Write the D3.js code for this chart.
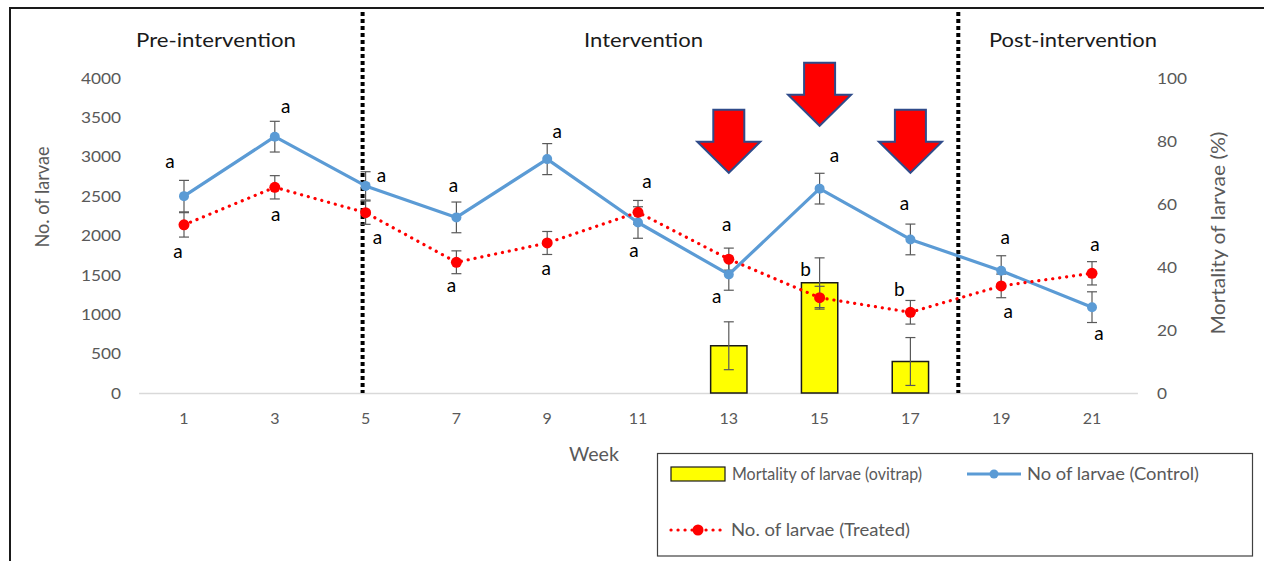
<!DOCTYPE html>
<html><head><meta charset="utf-8">
<script src="https://cdn.jsdelivr.net/npm/d3@7/dist/d3.min.js"></script>
<style>
html,body{margin:0;padding:0;background:#fff;}
svg{display:block;}
text{font-family:Lato,"Open Sans",sans-serif;}
</style></head>
<body><svg id="chart" width="1264" height="561"></svg>
<script>
// ---- data ----
const weeks = [1, 3, 5, 7, 9, 11, 13, 15, 17, 19, 21];
const control = [2500, 3255, 2630, 2230, 2970, 2165, 1505, 2595, 1950, 1553, 1090];
const controlErr = [200, 195, 180, 195, 197, 200, 200, 195, 195, 190, 195];
const treated = [2135, 2612, 2290, 1660, 1905, 2295, 1700, 1210, 1025, 1360, 1520];
const treatedErr = [155, 148, 148, 145, 146, 150, 140, 145, 150, 150, 148];
const controlLetters = ["a","a","a","a","a","a","a","a","a","a","a"];
const treatedLetters = ["a","a","a","a","a","a","a","b","b","a","a"];
const mortWeeks = [13, 15, 17];
const mortality = [15, 35, 10];
const mortalityErr = [7.6, 7.9, 7.6];
const leftTicks = [0, 500, 1000, 1500, 2000, 2500, 3000, 3500, 4000];
const rightTicks = [0, 20, 40, 60, 80, 100];
const phases = ["Pre-intervention", "Intervention", "Post-intervention"];
const arrowWeeks = [13, 15, 17];
const arrowTipValues = [2797, 3394, 2797]; // tip position on left axis scale

// ---- layout (not data) ----
const ctrlOff = [[-14,-33],[11,-29],[16,-9],[-3,-30],[10,-26],[-4,29],[-12,24],[15,-32],[-6,-34],[4,-32],[7,28]];
const trtOff  = [[-6,28],[1,29],[12,26],[-5,25],[-1,27],[9,-29],[-2,-33],[-14,-27],[-11,-21],[7,27],[3,-27]];

const svg = d3.select("#chart");
const x = d3.scaleBand().domain(weeks).range([138.6, 1137.4]);
const bw = x.bandwidth();
const cx = w => x(w) + bw / 2;
const yL = d3.scaleLinear().domain([0, 4000]).range([393, 78]);
const yR = d3.scaleLinear().domain([0, 100]).range([393, 78]);

function fit(sel, len) { sel.attr("textLength", len).attr("lengthAdjust", "spacingAndGlyphs"); return sel; }

// frame
svg.append("path").attr("d", "M10,561 L10,8 L1264,8").attr("fill","none").attr("stroke","#1a1a1a").attr("stroke-width",2);

// axes
const gL = svg.append("g").attr("transform","translate(121,0)")
  .call(d3.axisLeft(yL).tickValues(leftTicks).tickFormat(d3.format("d")).tickSize(0).tickPadding(0));
gL.select(".domain").remove();
gL.selectAll("text").attr("fill","#595959").style("font-size","16px").style("font-family","Lato,sans-serif")
  .each(function(){ const t=d3.select(this); fit(t, this.getComputedTextLength()*1.08); });
const gR = svg.append("g").attr("transform","translate(1157,0)")
  .call(d3.axisRight(yR).tickValues(rightTicks).tickFormat(d3.format("d")).tickSize(0).tickPadding(0));
gR.select(".domain").remove();
gR.selectAll("text").attr("fill","#595959").style("font-size","16px").style("font-family","Lato,sans-serif")
  .each(function(){ const t=d3.select(this); fit(t, this.getComputedTextLength()*1.08); });
const gX = svg.append("g").attr("transform","translate(0,393)")
  .call(d3.axisBottom(x).tickSize(0).tickPadding(20));
gX.select(".domain").attr("stroke","#d9d9d9").attr("stroke-width",1.5);
gX.selectAll("text").attr("fill","#595959").style("font-size","16px").style("font-family","Lato,sans-serif");

// axis titles
fit(svg.append("text").attr("transform","translate(49,197) rotate(-90)").attr("text-anchor","middle")
  .attr("fill","#595959").style("font-size","19px").text("No. of larvae"), 101);
fit(svg.append("text").attr("transform","translate(1225,233) rotate(-90)").attr("text-anchor","middle")
  .attr("fill","#595959").style("font-size","19px").text("Mortality of larvae  (%)"), 203);
fit(svg.append("text").attr("x",594).attr("y",461).attr("text-anchor","middle")
  .attr("fill","#595959").style("font-size","19px").text("Week"), 50);

// phase labels
const phaseX = [216, 643.5, 1073];
const phaseW = [160, 119, 168];
phases.forEach((p,i)=>{
  fit(svg.append("text").attr("x",phaseX[i]).attr("y",47).attr("text-anchor","middle")
    .attr("fill","#1a1a1a").style("font-size","19px").text(p), phaseW[i]);
});

// dotted separators
[cx(5) - 3, x(19) + 2.5].forEach(px=>{
  svg.append("line").attr("x1",px).attr("x2",px).attr("y1",12).attr("y2",393)
    .attr("stroke","#000").attr("stroke-width",4).attr("stroke-dasharray","4,3");
});

// bars
const bars = mortWeeks.map((w,i)=>({w, v:mortality[i], e:mortalityErr[i]}));
const barW = bw * 0.4;
svg.append("g").selectAll("rect").data(bars).join("rect")
  .attr("x", d=>cx(d.w)-barW/2).attr("y", d=>yR(d.v))
  .attr("width", barW).attr("height", d=>yR(0)-yR(d.v))
  .attr("fill","#ffff00").attr("stroke","#1a1a1a").attr("stroke-width",1.5);

function errBars(data, ys) {
  const g = svg.append("g").attr("stroke","#595959").attr("stroke-width",1.2);
  data.forEach(d=>{
    const px = cx(d.w), y1 = ys(d.v + d.e), y2 = ys(d.v - d.e);
    g.append("line").attr("x1",px).attr("x2",px).attr("y1",y1).attr("y2",y2);
    g.append("line").attr("x1",px-5).attr("x2",px+5).attr("y1",y1).attr("y2",y1);
    g.append("line").attr("x1",px-5).attr("x2",px+5).attr("y1",y2).attr("y2",y2);
  });
}
errBars(bars, yR);

const ctrl = weeks.map((w,i)=>({w, v:control[i], e:controlErr[i], l:controlLetters[i], o:ctrlOff[i]}));
const trt = weeks.map((w,i)=>({w, v:treated[i], e:treatedErr[i], l:treatedLetters[i], o:trtOff[i]}));
const line = d3.line().x(d=>cx(d.w)).y(d=>yL(d.v));

errBars(trt, yL);
errBars(ctrl, yL);

// control line
svg.append("path").datum(ctrl).attr("d", line).attr("fill","none")
  .attr("stroke","#5b9bd5").attr("stroke-width",3.2).attr("stroke-linejoin","round");
svg.append("g").selectAll("circle").data(ctrl).join("circle")
  .attr("cx", d=>cx(d.w)).attr("cy", d=>yL(d.v)).attr("r",5).attr("fill","#5b9bd5");

// treated line
svg.append("path").datum(trt).attr("d", line).attr("fill","none")
  .attr("stroke","#ff0000").attr("stroke-width",3.2).attr("stroke-dasharray","0.1,6.9").attr("stroke-linecap","round");
svg.append("g").selectAll("circle").data(trt).join("circle")
  .attr("cx", d=>cx(d.w)).attr("cy", d=>yL(d.v)).attr("r",5.5).attr("fill","#ff0000");

// letters
[ctrl, trt].forEach(arr=>{
  svg.append("g").selectAll("text").data(arr).join("text")
    .attr("x", d=>cx(d.w)+d.o[0]).attr("y", d=>yL(d.v)+d.o[1]+5)
    .attr("text-anchor","middle").attr("fill","#000").style("font-size","19px").text(d=>d.l);
});

// arrows
arrowWeeks.forEach((w,i)=>{
  const tx = cx(w), ty = yL(arrowTipValues[i]);
  const sw = 15.5, hw = 31.5, hh = 31, sh = 32;
  const pts = [[tx-sw, ty-hh-sh],[tx+sw, ty-hh-sh],[tx+sw, ty-hh],[tx+hw, ty-hh],[tx, ty],[tx-hw, ty-hh],[tx-sw, ty-hh]];
  svg.append("path").attr("d", "M" + pts.map(p=>p.join(",")).join("L") + "Z")
    .attr("fill","#ff0000").attr("stroke","#2f4b8a").attr("stroke-width",2).attr("stroke-linejoin","miter");
});

// legend
const lg = svg.append("g");
lg.append("rect").attr("x",657.5).attr("y",453.5).attr("width",595).attr("height",102.5)
  .attr("fill","#fff").attr("stroke","#404040").attr("stroke-width",1.2);
lg.append("rect").attr("x",671).attr("y",467).attr("width",54).attr("height",14)
  .attr("fill","#ffff00").attr("stroke","#1a1a1a").attr("stroke-width",1.2);
fit(lg.append("text").attr("x",732).attr("y",480).attr("fill","#595959").style("font-size","16.5px").text("Mortality of larvae (ovitrap)"), 190);
lg.append("line").attr("x1",967).attr("x2",1021).attr("y1",474).attr("y2",474).attr("stroke","#5b9bd5").attr("stroke-width",3.2);
lg.append("circle").attr("cx",994).attr("cy",474).attr("r",4.5).attr("fill","#5b9bd5");
fit(lg.append("text").attr("x",1027).attr("y",480).attr("fill","#595959").style("font-size","16.5px").text("No of larvae (Control)"), 172);
lg.append("line").attr("x1",671).attr("x2",724).attr("y1",530).attr("y2",530).attr("stroke","#ff0000").attr("stroke-width",3.2)
  .attr("stroke-dasharray","0.1,6.9").attr("stroke-linecap","round");
lg.append("circle").attr("cx",698).attr("cy",530).attr("r",5.5).attr("fill","#ff0000");
fit(lg.append("text").attr("x",731).attr("y",536).attr("fill","#595959").style("font-size","16.5px").text("No. of larvae (Treated)"), 179);
</script></body></html>
